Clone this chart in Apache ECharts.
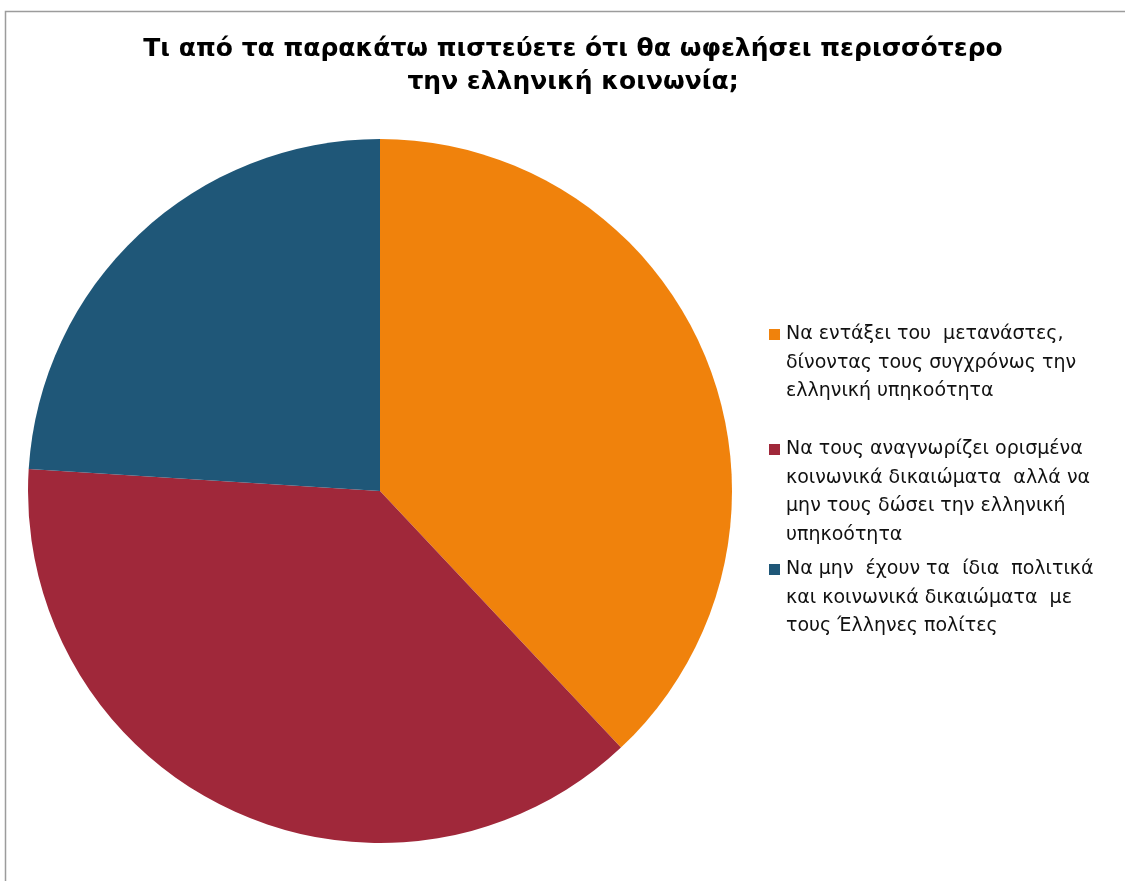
<!DOCTYPE html>
<html>
<head>
<meta charset="utf-8">
<script src="https://cdn.jsdelivr.net/npm/echarts@6/dist/echarts.min.js"></script>
<style>
  html, body { margin: 0; padding: 0; background: #fff; }
  #chart { width: 1125px; height: 881px; }
</style>
</head>
<body>
<div id="chart"></div>
<script>
// Survey answers (share of respondents, %)
const categories = [
  'Να εντάξει του  μετανάστες, δίνοντας τους συγχρόνως την ελληνική υπηκοότητα',
  'Να τους αναγνωρίζει ορισμένα κοινωνικά δικαιώματα  αλλά να μην τους δώσει την ελληνική υπηκοότητα',
  'Να μην  έχουν τα  ίδια  πολιτικά και κοινωνικά δικαιώματα  με τους Έλληνες πολίτες'
];
const values = [38, 38, 24];
const legendLines = [
  ['Να εντάξει του  μετανάστες,', 'δίνοντας τους συγχρόνως την', 'ελληνική υπηκοότητα'],
  ['Να τους αναγνωρίζει ορισμένα', 'κοινωνικά δικαιώματα  αλλά να', 'μην τους δώσει την ελληνική', 'υπηκοότητα'],
  ['Να μην  έχουν τα  ίδια  πολιτικά', 'και κοινωνικά δικαιώματα  με', 'τους Έλληνες πολίτες']
];
const colors = ['#F0820C', '#A0283A', '#1F5778'];
const titleLines = ['Τι από τα παρακάτω πιστεύετε ότι θα ωφελήσει περισσότερο', 'την ελληνική κοινωνία;'];

const chart = echarts.init(document.getElementById('chart'), null, { renderer: 'canvas' });

const LH = 28.5;              // legend line height
const iconTops = [329, 444, 564];

// one legend block per entry so each sits at its own height;
// leading blank lines keep the marker level with the first text line
const legends = categories.map((name, i) => {
  const n = legendLines[i].length;
  const blank = new Array(n - 1).fill('');
  return {
    show: true,
    orient: 'vertical',
    left: 769,
    top: iconTops[i] + 5.5 - (2 * n - 1) * LH / 2,
    padding: 0,
    itemWidth: 11,
    itemHeight: 11,
    itemGap: 0,
    icon: 'rect',
    selectedMode: false,
    data: [name],
    formatter: () => blank.concat(legendLines[i]).join('\n'),
    textStyle: {
      fontFamily: 'DejaVu Sans',
      fontSize: 19,
      color: '#111',
      lineHeight: LH,
      padding: [0, 0, 0, 1]
    }
  };
});

chart.setOption({
  backgroundColor: '#fff',
  animation: false,
  color: colors,
  title: {
    text: titleLines.join('\n'),
    left: 568,
    top: 28,
    textAlign: 'center',
    textStyle: {
      fontFamily: '"DejaVu Sans", Verdana, sans-serif',
      fontWeight: 'bold',
      fontSize: 25,
      lineHeight: 33,
      color: '#000'
    }
  },
  legend: legends,
  graphic: [{
    type: 'rect',
    shape: { x: 5.5, y: 11.5, width: 1300, height: 1000 },
    style: { fill: 'none', stroke: '#9C9C9C', lineWidth: 1.5 },
    silent: true
  }],
  series: [{
    type: 'pie',
    center: [380, 491],
    radius: 352,
    startAngle: 90,
    clockwise: true,
    label: { show: false },
    labelLine: { show: false },
    itemStyle: { borderWidth: 0 },
    emphasis: { disabled: true },
    data: categories.map((name, i) => ({ name, value: values[i] }))
  }]
});
</script>
</body>
</html>
